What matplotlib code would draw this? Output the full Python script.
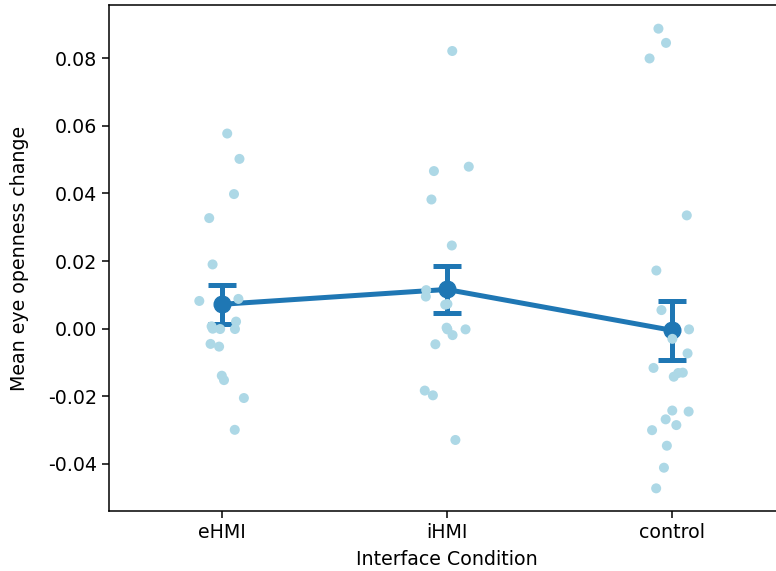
import numpy as np
import matplotlib
matplotlib.use("Agg")
import matplotlib.pyplot as plt

# Per-participant mean eye openness change for each interface condition
conditions = ["eHMI", "iHMI", "control"]

ehmi = [0.0577, 0.0502, 0.0398, 0.0327, 0.0190, 0.0088, 0.0082, 0.0021,
        -0.0001, -0.0001, 0.0000, 0.0007, -0.0045, -0.0053, -0.0139,
        -0.0152, -0.0205, -0.0299]
ihmi = [0.0821, 0.0479, 0.0466, 0.0382, 0.0246, 0.0114, 0.0095, 0.0073,
        0.0071, -0.0002, -0.0019, -0.0002, 0.0003, -0.0046, -0.0183,
        -0.0197, -0.0329]
control = [0.0887, 0.0845, 0.0799, 0.0335, 0.0172, 0.0055, -0.0002,
           -0.0030, -0.0073, -0.0131, -0.0130, -0.0116, -0.0142, -0.0242,
           -0.0245, -0.0268, -0.0285, -0.0300, -0.0346, -0.0411, -0.0472]

groups = [ehmi, ihmi, control]
yticks = [-0.04, -0.02, 0.00, 0.02, 0.04, 0.06, 0.08]

W, H, DPI = 776, 571, 100
fig = plt.figure(figsize=(W / DPI, H / DPI), dpi=DPI)
ax = fig.add_axes([109 / W, 60 / H, 675.5 / W, 506 / H])

FS = 13.7
point_color = "#1f77b4"
strip_color = "#add8e6"

# Means with standard-error bars, joined by a line
means = [np.mean(g) for g in groups]
sems = [np.std(g, ddof=1) / np.sqrt(len(g)) for g in groups]
xpos = np.arange(len(groups))
ax.errorbar(xpos, means, yerr=sems, color=point_color, lw=3.6,
            elinewidth=3.6, capsize=10, capthick=3.6, marker="o",
            markersize=12, zorder=2)

# Individual observations with horizontal jitter
rng = np.random.default_rng(7)
for i, g in enumerate(groups):
    jitter = rng.uniform(-0.1, 0.1, len(g))
    ax.scatter(i + jitter, g, s=52, color=strip_color, edgecolors="none",
               zorder=3)

ax.set_xlim(-0.5, 2.5)
ax.set_ylim(-0.0539, 0.0957)
ax.set_xticks(xpos)
ax.set_xticklabels(conditions)
ax.set_yticks(yticks)
ax.set_yticklabels([f"{t:.2f}" for t in yticks])
ax.tick_params(labelsize=FS, length=5, width=1.1)
for sp in ax.spines.values():
    sp.set_linewidth(1.1)

ax.set_xlabel("Interface Condition", fontsize=FS, labelpad=6)
ax.set_ylabel("Mean eye openness change", fontsize=FS, labelpad=14)

fig.savefig("out.png", dpi=DPI)
